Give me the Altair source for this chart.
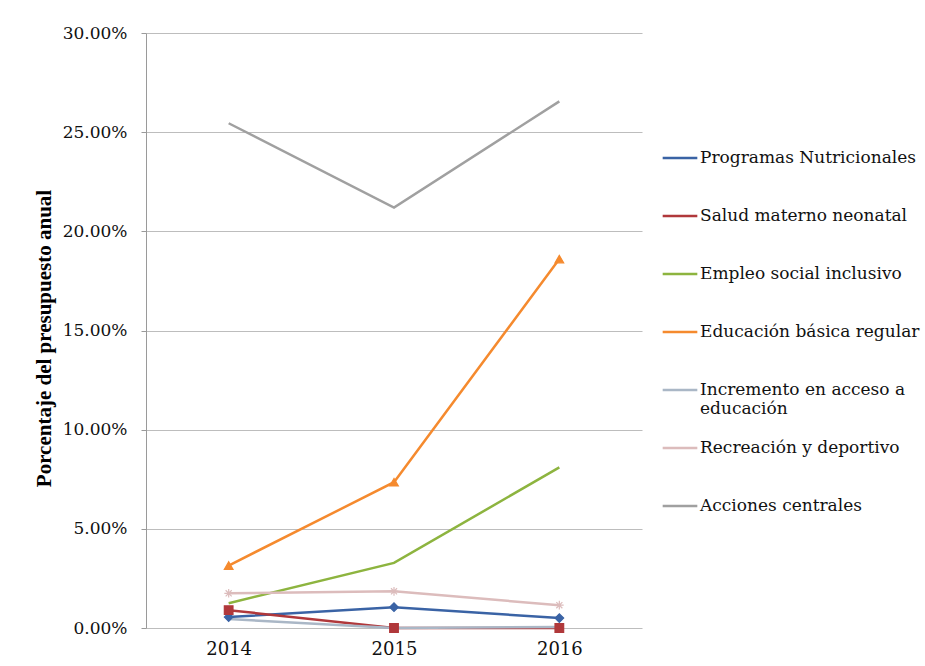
import altair as alt
import pandas as pd

years = ["2014", "2015", "2016"]
series_names = [
    "Programas Nutricionales",
    "Salud materno neonatal",
    "Empleo social inclusivo",
    "Educación básica regular",
    "Incremento en acceso a educación",
    "Recreación y deportivo",
    "Acciones centrales",
]
programas = [0.55, 1.05, 0.50]
salud = [0.90, 0.00, 0.00]
empleo = [1.25, 3.28, 8.10]
educacion = [3.15, 7.35, 18.60]
incremento = [0.45, 0.00, 0.05]
recreacion = [1.75, 1.85, 1.15]
acciones = [25.45, 21.20, 26.55]

all_values = [programas, salud, empleo, educacion, incremento, recreacion, acciones]
rows = []
for order, (name, vals) in enumerate(zip(series_names, all_values)):
    for yr, v in zip(years, vals):
        rows.append({"Año": yr, "Serie": name, "Valor": v / 100, "orden": order})
df = pd.DataFrame(rows)

colors = ["#3a63a5", "#b0383b", "#8db43f", "#f58a2e", "#aab7c6", "#dcbcbc", "#a0a0a0"]
marker_series = ["Programas Nutricionales", "Salud materno neonatal",
                 "Educación básica regular", "Recreación y deportivo"]
asterisk = "M-1,0L1,0M0,-1L0,1M-0.7,-0.7L0.7,0.7M-0.7,0.7L0.7,-0.7"
marker_shapes = ["diamond", "square", "triangle-up", asterisk]

FONT = "DejaVu Serif"
TFONT = "Liberation Serif"
color_scale = alt.Scale(domain=series_names, range=colors)

x_enc = alt.X(
    "Año:N",
    scale=alt.Scale(type="point", padding=0.5),
    axis=alt.Axis(title=None, labelAngle=0, labelFont=FONT, labelFontSize=18,
                  labelColor="#111111", domain=False, ticks=False, labelPadding=12,
                  grid=False),
)
y_enc = alt.Y(
    "Valor:Q",
    scale=alt.Scale(domain=[0, 0.30], nice=False),
    axis=alt.Axis(
        title="Porcentaje del presupuesto anual",
        format=".2%",
        values=[0, 0.05, 0.10, 0.15, 0.20, 0.25, 0.30],
        labelFont=FONT, labelFontSize=17, labelColor="#111111",
        titleFont=TFONT, titleFontSize=21, titleFontWeight="bold", titleColor="#000000",
        titlePadding=8, titleY=305, tickSize=5, labelPadding=14,
        domainColor="#9a9a9a", tickColor="#9a9a9a",
        gridColor="#bdbdbd", gridWidth=1,
    ),
)

legend_label_expr = (
    "datum.label == 'Incremento en acceso a educación' ? "
    "['Incremento en acceso a', 'educación'] : datum.label"
)

lines = alt.Chart(df).mark_line(strokeWidth=2.5).encode(
    x=x_enc,
    y=y_enc,
    color=alt.Color(
        "Serie:N",
        scale=color_scale,
        sort=series_names,
        legend=alt.Legend(
            title=None, orient="none", legendX=515, legendY=106,
            symbolType="stroke", symbolSize=1200, symbolStrokeWidth=2.5,
            labelFont=FONT, labelFontSize=17, labelColor="#111111",
            labelLimit=400, rowPadding=12, labelOffset=1, gridAlign="all",
            labelExpr=legend_label_expr,
        ),
    ),
    order=alt.Order("orden:Q"),
)

points = alt.Chart(df).transform_filter(
    alt.FieldOneOfPredicate(field="Serie", oneOf=marker_series)
).mark_point(filled=True, size=75, strokeWidth=1.2, opacity=1).encode(
    x=x_enc,
    y=y_enc,
    color=alt.Color("Serie:N", scale=color_scale, legend=None),
    stroke=alt.Stroke("Serie:N", scale=color_scale, legend=None),
    shape=alt.Shape("Serie:N", scale=alt.Scale(domain=marker_series, range=marker_shapes),
                    legend=None),
)

chart = alt.layer(lines, points).properties(
    width=496,
    height=595,
    autosize=alt.AutoSizeParams(type="none"),
    padding={"left": 146, "top": 33, "right": 283, "bottom": 38},
    background="white",
).configure_view(
    stroke=None
).configure_axisY(grid=True)

chart.save("out.html", embed_options={"renderer": "svg", "actions": False})
